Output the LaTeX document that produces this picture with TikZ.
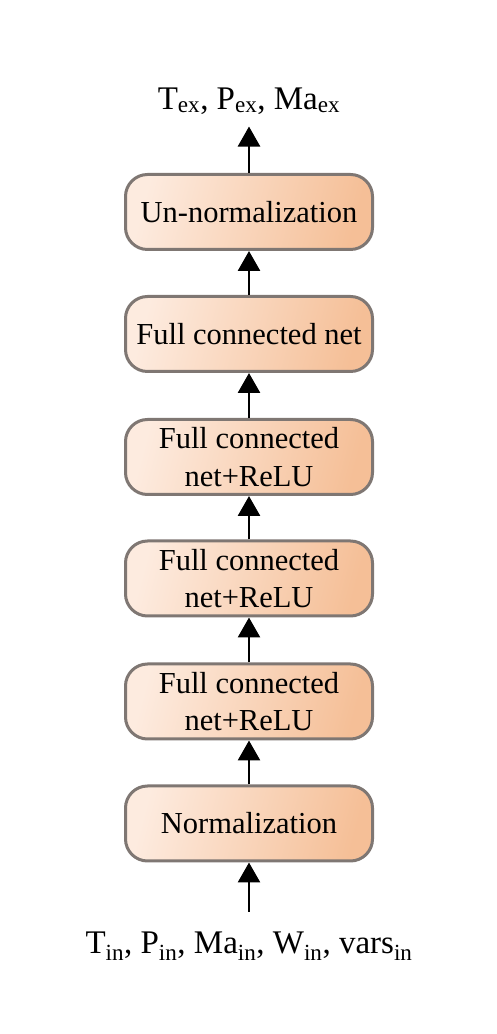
\documentclass[tikz,border=0pt]{standalone}
\usepackage{fontspec}
\setmainfont{Liberation Serif}
\usetikzlibrary{arrows.meta}

\definecolor{boxlight}{HTML}{FDEBDF}
\definecolor{boxdark}{HTML}{F5BF97}
\definecolor{boxline}{HTML}{7F7773}

\begin{document}
\begin{tikzpicture}[x=1pt, y=1pt,
		layer/.style={draw=boxline, line width=3pt, rounded corners=22pt,
			left color=boxlight, right color=boxdark, shading angle=75,
			minimum width=247pt, minimum height=75pt, align=center,
			font=\fontsize{30.5}{37.5}\selectfont},
		io/.style={font=\fontsize{33}{38}\selectfont, inner xsep=4pt, inner ysep=12pt},
		arr/.style={line width=2.7pt, -{Triangle[width=22pt,length=20pt]}}]
			\useasboundingbox (0,0) rectangle (497,1034);

			% layers
			\node[layer] (unnorm) at (249,822) {Un-normalization};
			\node[layer] (fcnet) at (249,700) {Full connected net};
			\node[layer] (relu3) at (249,577) {Full connected\\net+ReLU};
			\node[layer] (relu2) at (249,455.5) {Full connected\\net+ReLU};
			\node[layer] (relu1) at (249,332.5) {Full connected\\net+ReLU};
			\node[layer] (norm) at (249,210.5) {Normalization};

			% inputs and outputs
			\node[io] (out) at (249,933) {T\textsubscript{ex}, P\textsubscript{ex}, Ma\textsubscript{ex}};
			\node[io, inner ysep=20pt] (in) at (249,88) {T\textsubscript{in}, P\textsubscript{in}, Ma\textsubscript{in}, W\textsubscript{in}, vars\textsubscript{in}};

			% arrows
			\draw[arr] (in) -- (norm);
			\draw[arr] (norm) -- (relu1);
			\draw[arr] (relu1) -- (relu2);
			\draw[arr] (relu2) -- (relu3);
			\draw[arr] (relu3) -- (fcnet);
			\draw[arr] (fcnet) -- (unnorm);
			\draw[arr] (unnorm) -- (out);
		\end{tikzpicture}
\end{document}
